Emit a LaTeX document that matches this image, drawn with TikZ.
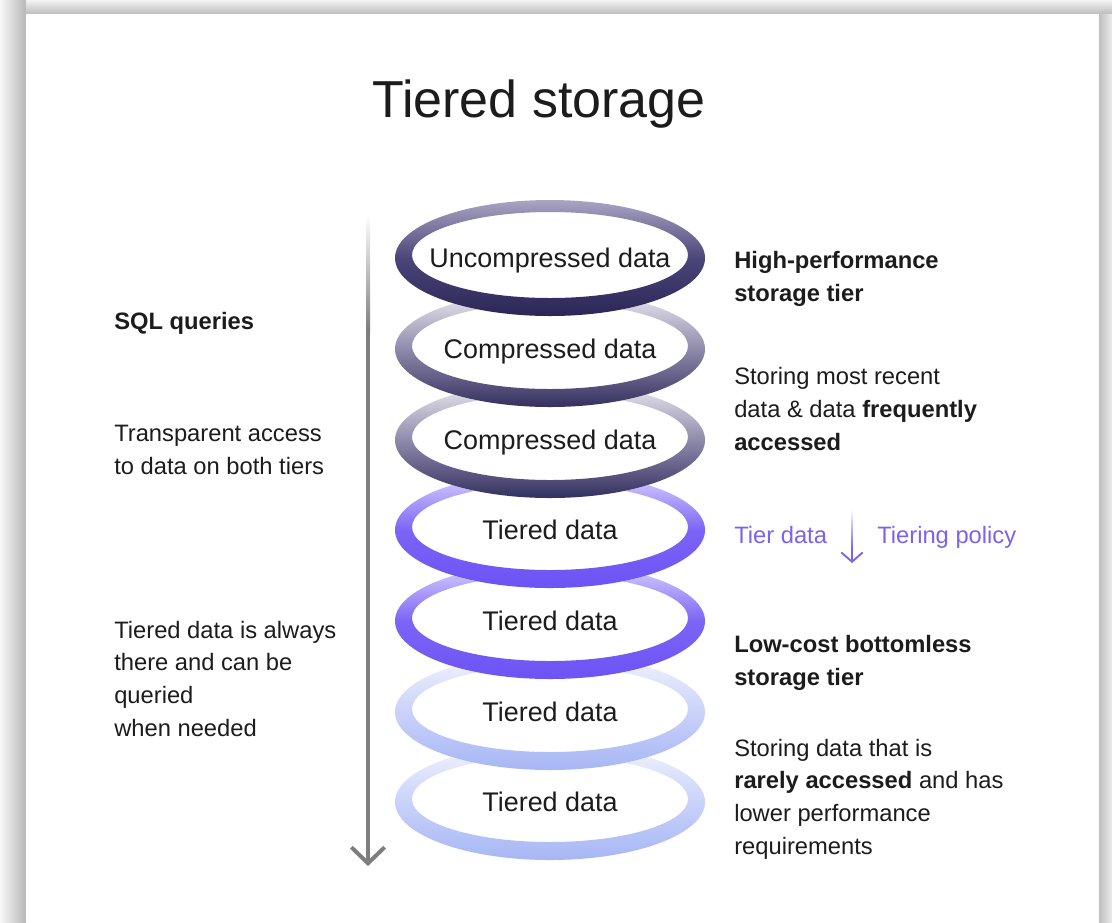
\documentclass[tikz,border=0pt]{standalone}
\usepackage{fontspec}
\setmainfont{Liberation Sans}
\usepackage{tikz}
\usetikzlibrary{arrows.meta,positioning}
\definecolor{ink}{HTML}{1C1C1C}
\definecolor{navyTop}{HTML}{A9A5C3}
\definecolor{navyMid}{HTML}{4B4679}
\definecolor{navyBot}{HTML}{2A2656}
\definecolor{greyTop}{HTML}{EEECF3}
\definecolor{greyMid}{HTML}{8E8AAB}
\definecolor{greyBot}{HTML}{34305F}
\definecolor{violetTop}{HTML}{DCD4FE}
\definecolor{violetMid}{HTML}{7C64F6}
\definecolor{violetBot}{HTML}{6C53F5}
\definecolor{paleTop}{HTML}{F3F4FD}
\definecolor{paleMid}{HTML}{C9D2F9}
\definecolor{paleBot}{HTML}{A7B6F5}
\definecolor{tierviolet}{HTML}{7A63F2}
\definecolor{qgrey}{HTML}{7E7E7E}

\begin{document}
\begin{tikzpicture}[x=0.75pt,y=-0.75pt,
    txt/.style={font=\fontsize{17.8}{24.4}\selectfont, text=ink, anchor=base west, align=left, inner sep=0pt},
    bold/.style={font=\fontsize{17.8}{24.4}\selectfont\bfseries},
    ringlabel/.style={font=\fontsize{20.2}{24}\selectfont, text=ink, anchor=base, inner sep=0pt},
    qarrow/.style={qgrey, line width=3pt, -{Straight Barb[length=12pt,width=25pt]}},
    tierarrow/.style={tierviolet, line width=1.4pt, -{Straight Barb[length=7pt,width=16pt]}}]
\useasboundingbox (0,0) rectangle (1112,922);
% card and frame
\fill[black!8] (0,0) rectangle (1112,922);
\shade[left color=black!3, right color=black!28] (0,0) rectangle (26,922);
\shade[top color=black!5, bottom color=black!26] (26,0) rectangle (1112,14);
\shade[left color=black!25, right color=black!8] (1099,14) rectangle (1112,922);
\fill[white] (26,14) rectangle (1099,922);

\node[font=\fontsize{39}{44}\selectfont, text=ink, anchor=base] (title) at (539,117) {Tiered storage};

% rings, bottom one first
\foreach \i/\yc/\lab/\col in {7/802/Tiered data/pale, 6/712/Tiered data/pale,
    5/621/Tiered data/violet, 4/530/Tiered data/violet,
    3/440/Compressed data/grey, 2/349/Compressed data/grey,
    1/258/Uncompressed data/navy}{
  \fill[white] (550,\yc) ellipse (155 and 58);
  \shade[even odd rule, top color=\col Top, bottom color=\col Bot, middle color=\col Mid]
    (550,\yc) ellipse (155 and 58) (550,\yc-3) ellipse (138 and 43);
  \node[ringlabel] (ring\i) at (550,\yc+9) {\lab};
}

% query arrow, faded at the top
\coordinate (qtop) at (368,215);
\coordinate (qmid) at (368,330);
\coordinate (qend) at (368,866);
\shade[top color=white, bottom color=qgrey] ([xshift=-1.5pt]qtop) rectangle ([xshift=1.5pt]qmid);
\draw[qarrow] (qmid) -- (qend);

% left texts (anchored on the last line)
\node[txt, bold] (sqlq) at (114,329) {SQL queries};
\node[txt] (access) at (114,474) {Transparent access\\to data on both tiers};
\node[txt] (always) at (114,736) {Tiered data is always\\there and can be\\queried\\when needed};

% right texts
\node[txt, bold] (hiperf) at (734,301) {High-performance\\storage tier};
\node[txt] (recent) at (734,450) {Storing most recent\\data \& data \textbf{frequently}\\\textbf{accessed}};
\node[txt, text=tierviolet] (tierdata) at (734,543) {Tier data};
\node[txt, text=tierviolet] (tierpol) at (877,543) {Tiering policy};
\coordinate (tsrc) at (852,509);
\coordinate (tmid) at (852,548);
\coordinate (tdst) at (852,563);
\shade[top color=white, bottom color=tierviolet] ([xshift=-0.7pt]tsrc) rectangle ([xshift=0.7pt]tmid);
\draw[tierarrow] (tmid) -- (tdst);
\node[txt, bold] (lowcost) at (734,685) {Low-cost bottomless\\storage tier};
\node[txt] (rarely) at (734,854) {Storing data that is\\\textbf{rarely accessed} and has\\lower performance\\requirements};
\end{tikzpicture}
\end{document}
